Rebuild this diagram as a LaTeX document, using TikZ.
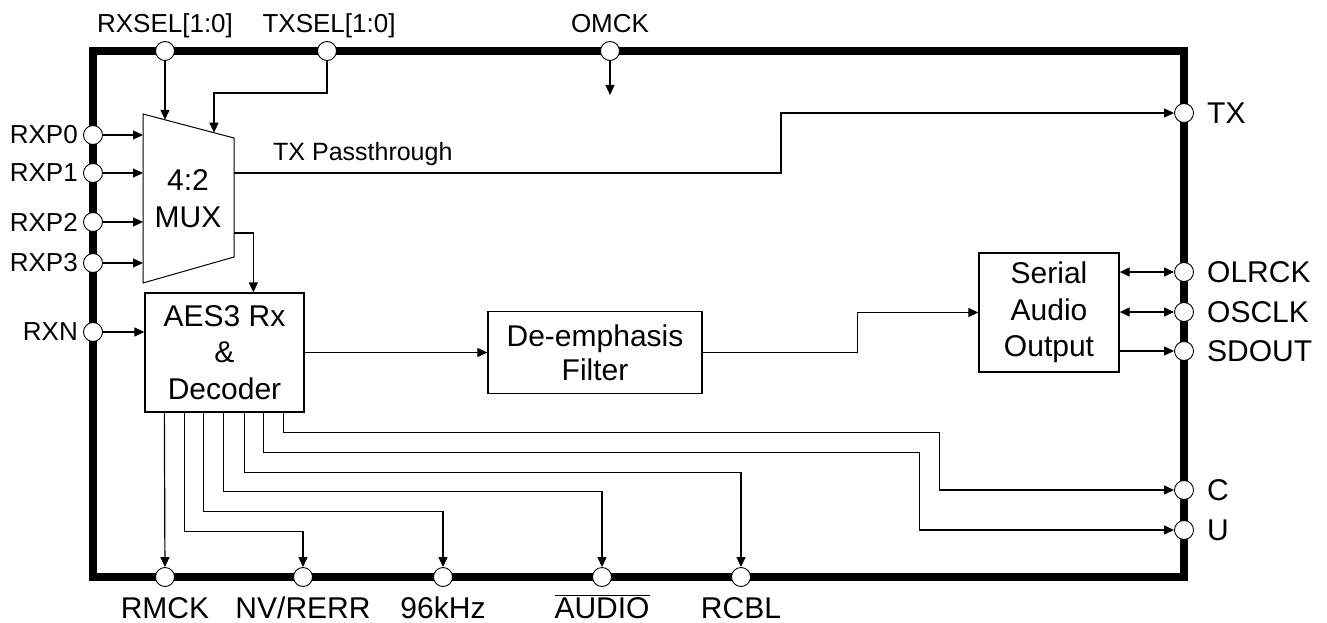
\documentclass[tikz,border=0pt]{standalone}
\usepackage{fontspec}
\setmainfont{Liberation Sans}
\usetikzlibrary{arrows.meta,calc}
\begin{document}
\begin{tikzpicture}[x=1pt,y=-1pt,
  pin/.style={circle,draw,fill=white,line width=0.9pt,minimum size=19pt,inner sep=0pt},
  wire/.style={line width=1.2pt},
  arr/.style={wire,-{Triangle[length=10pt,width=9pt]}},
  dblarr/.style={wire,{Triangle[length=10pt,width=9pt]}-{Triangle[length=10pt,width=9pt]}},
  blk/.style={draw,line width=1.3pt,align=center,font=\fontsize{30}{36.5}\selectfont,inner sep=0pt},
  sl/.style={font=\fontsize{26}{30}\selectfont,inner sep=0pt},
  ll/.style={font=\fontsize{30}{36}\selectfont,inner sep=0pt},
]
\useasboundingbox (0,0) rectangle (1327,623);
% outer chip border
\draw[line width=8pt,line join=miter] (93,51) rectangle (1184,577);
% pins
\node[pin] (rxsel) at (165,51) {};
\node[pin] (txsel) at (327,51) {};
\node[pin] (omck) at (610,51) {};
\node[pin] (rxp0) at (93,135) {};
\node[pin] (rxp1) at (93,173) {};
\node[pin] (rxp2) at (93,222) {};
\node[pin] (rxp3) at (93,263) {};
\node[pin] (rxn) at (93,332) {};
\node[pin] (tx) at (1184,113) {};
\node[pin] (olrck) at (1184,272) {};
\node[pin] (osclk) at (1184,312) {};
\node[pin] (sdout) at (1184,351) {};
\node[pin] (c) at (1184,490) {};
\node[pin] (u) at (1184,530) {};
\node[pin] (rmck) at (165,577) {};
\node[pin] (nv) at (303,577) {};
\node[pin] (k96) at (443,577) {};
\node[pin] (audio) at (602,577) {};
\node[pin] (rcbl) at (741,577) {};
% mux
\coordinate (m1) at (143,114);
\coordinate (m2) at (234,138);
\coordinate (m3) at (234,257);
\coordinate (m4) at (143,283);
\draw[line width=1pt] (m1) -- (m2) -- (m3) -- (m4) -- cycle;
\node[align=center,font=\fontsize{30}{37}\selectfont,inner sep=0pt] (muxtxt) at (188,198.5) {4:2\\MUX};
\coordinate (mxs) at (165,119.8);
\coordinate (mxt) at (214,132.7);
\coordinate (mo1) at (234,173);
\coordinate (mo2) at (234,233);
\coordinate (omckend) at (610,95);
% blocks
\node[blk,minimum width=159pt,minimum height=119pt] (aes) at (224.5,352.5) {AES3 Rx\\\&\\Decoder};
\node[blk,minimum width=214pt,minimum height=82pt,font=\fontsize{30}{34}\selectfont] (de) at (595,352.5) {De-emphasis\\Filter};
\node[blk,minimum width=140pt,minimum height=119pt] (sao) at (1049,312.5) {Serial\\Audio\\Output};
% connectors
\draw[arr] (rxsel) -- (mxs);
\draw[arr] (txsel) -- ++(0,42) -| (mxt);
\draw[arr] (omck) -- (omckend);
\draw[arr] (rxp0) -- (rxp0 -| m1);
\draw[arr] (rxp1) -- (rxp1 -| m1);
\draw[arr] (rxp2) -- (rxp2 -| m1);
\draw[arr] (rxp3) -- (rxp3 -| m1);
\draw[arr] (rxn) -- (rxn -| aes.west);
\draw[arr] (mo1) -- ++(547,0) |- (tx);
\draw[arr] (mo2) -| ([xshift=109pt]aes.north west);
\draw[arr] (aes.east) -- (de.west);
\draw[arr] (de.east) -- ++(155,0) |- (sao.west);
\draw[dblarr] (sao.east |- olrck) -- (olrck);
\draw[dblarr] (sao.east |- osclk) -- (osclk);
\draw[arr] (sao.east |- sdout) -- (sdout);
\draw[arr] ([xshift=20pt]aes.south west) -- (rmck);
\draw[arr] ([xshift=40pt]aes.south west) -- ++(0,119) -| (nv);
\draw[arr] ([xshift=59pt]aes.south west) -- ++(0,99) -| (k96);
\draw[arr] ([xshift=79pt]aes.south west) -- ++(0,79) -| (audio);
\draw[arr] ([xshift=100pt]aes.south west) -- ++(0,60) -| (rcbl);
\draw[arr] ([xshift=119pt]aes.south west) -- ++(0,40) -- ++(656,0) |- (u);
\draw[arr] ([xshift=139pt]aes.south west) -- ++(0,20) -- ++(656,0) |- (c);
% labels
\node[sl,anchor=base] (lrxsel) at (165,33) {RXSEL[1:0]};
\node[sl,anchor=base] (ltxsel) at (329,33) {TXSEL[1:0]};
\node[sl,anchor=base] (lomck) at (610,33) {OMCK};
\node[sl,anchor=east] (lrxp0) at (78,135) {RXP0};
\node[sl,anchor=east] (lrxp1) at (78,173) {RXP1};
\node[sl,anchor=east] (lrxp2) at (78,222) {RXP2};
\node[sl,anchor=east] (lrxp3) at (78,263) {RXP3};
\node[sl,anchor=east] (lrxn) at (78,332) {RXN};
\node[font=\fontsize{25}{30}\selectfont,inner sep=0pt,anchor=base west] (ltxp) at (273,160) {TX Passthrough};
\node[ll,anchor=west] (ltx) at (1207,113) {TX};
\node[ll,anchor=west] (lolrck) at (1207,272) {OLRCK};
\node[ll,anchor=west] (losclk) at (1207,312) {OSCLK};
\node[ll,anchor=west] (lsdout) at (1207,351) {SDOUT};
\node[ll,anchor=west] (lc) at (1207,490) {C};
\node[ll,anchor=west] (lu) at (1207,530) {U};
\node[ll,anchor=base] (lrmck) at (165,618) {RMCK};
\node[ll,anchor=base] (lnv) at (303,618) {NV/RERR};
\node[ll,anchor=base] (lk96) at (443,618) {96kHz};
\node[ll,anchor=base] (laudio) at (602,618) {$\overline{\hbox{AUDIO}}$};
\node[ll,anchor=base] (lrcbl) at (741,618) {RCBL};
\end{tikzpicture}
\end{document}
